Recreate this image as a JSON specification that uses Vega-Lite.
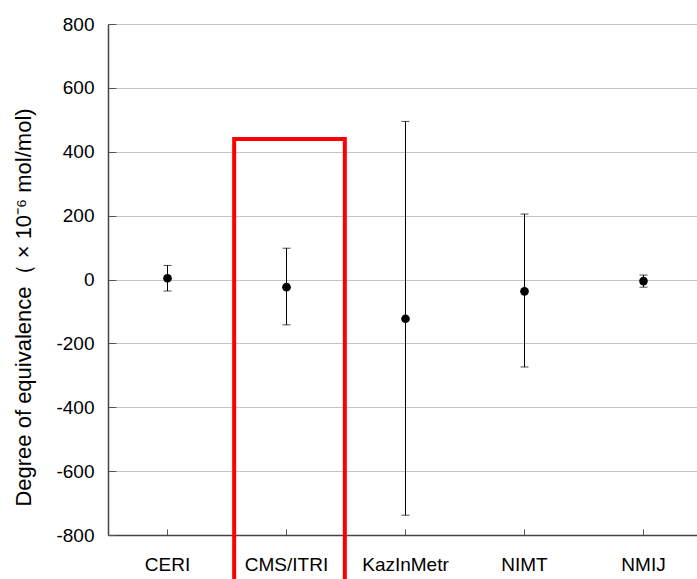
{
  "$schema": "https://vega.github.io/schema/vega-lite/v6.json",
  "autosize": "none",
  "width": 595,
  "height": 511,
  "padding": {"left": 108, "top": 24, "right": 0, "bottom": 44},
  "background": "white",
  "config": {
    "font": "Liberation Sans",
    "view": {"stroke": null}
  },
  "data": {
    "values": [
      {"lab": "CERI", "doe": 4, "lo": -36, "hi": 44},
      {"lab": "CMS/ITRI", "doe": -24, "lo": -142, "hi": 98},
      {"lab": "KazInMetr", "doe": -123, "lo": -738, "hi": 495},
      {"lab": "NIMT", "doe": -37, "lo": -274, "hi": 205},
      {"lab": "NMIJ", "doe": -5, "lo": -24, "hi": 14}
    ]
  },
  "encoding": {
    "x": {
      "field": "lab", "type": "nominal", "sort": null,
      "scale": {"paddingInner": 0, "paddingOuter": 0},
      "axis": {
        "title": null, "labelAngle": 0, "labelFontSize": 19, "labelColor": "#000",
        "labelPadding": 26, "ticks": true, "tickSize": -6, "tickColor": "#555",
        "domainColor": "#444", "domainWidth": 1.5
      }
    }
  },
  "layer": [
    {
      "mark": {"type": "rule", "color": "#000", "strokeWidth": 1},
      "encoding": {
        "y": {
          "field": "lo", "type": "quantitative",
          "scale": {"domain": [-800, 800], "nice": false},
          "axis": {
            "title": "Degree of equivalence（  ×  10⁻⁶  mol/mol)",
            "titleFontSize": 22, "titleFontWeight": "normal", "titleColor": "#000",
            "titlePadding": 20, "titleY": 283,
            "values": [-800, -600, -400, -200, 0, 200, 400, 600, 800],
            "labelExpr": "toString(datum.value)",
            "labelFontSize": 19, "labelColor": "#000", "labelPadding": 22,
            "ticks": true, "tickSize": -8, "tickColor": "#555",
            "grid": true, "gridColor": "#c4c4c4", "gridWidth": 1.2,
            "domainColor": "#444", "domainWidth": 1.5
          }
        },
        "y2": {"field": "hi"}
      }
    },
    {
      "mark": {"type": "tick", "color": "#000", "size": 8, "thickness": 1},
      "encoding": {"y": {"field": "lo", "type": "quantitative"}}
    },
    {
      "mark": {"type": "tick", "color": "#000", "size": 8, "thickness": 1},
      "encoding": {"y": {"field": "hi", "type": "quantitative"}}
    },
    {
      "mark": {"type": "circle", "color": "#000", "size": 75, "opacity": 1},
      "encoding": {"y": {"field": "doe", "type": "quantitative"}}
    },
    {
      "data": {"values": [{"lab": "CMS/ITRI", "top": 440, "bottom": -1000}]},
      "mark": {"type": "rect", "fill": null, "stroke": "#ff0000", "strokeWidth": 4, "clip": false, "width": {"band": 0.93}, "xOffset": 3},
      "encoding": {
        "y": {"field": "top", "type": "quantitative"},
        "y2": {"field": "bottom"}
      }
    }
  ]
}
